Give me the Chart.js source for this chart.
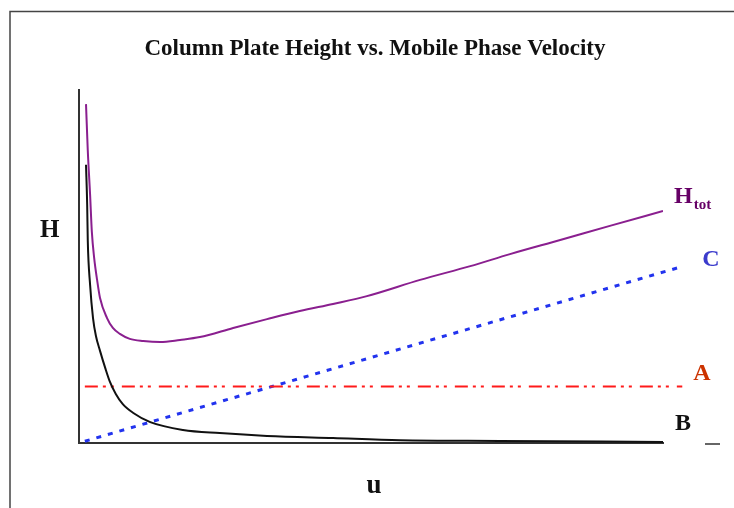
<!DOCTYPE html>
<html>
<head>
<meta charset="utf-8">
<script src="https://cdn.jsdelivr.net/npm/chart.js@4.4.1/dist/chart.umd.min.js"></script>
<style>
    html, body { margin: 0; padding: 0; background: #ffffff; }
    #plot { display: block; }
</style>
</head>
<body>
<canvas id="plot" width="734" height="508"></canvas>
<script>
// Van Deemter curve: plate height H against mobile phase velocity u
const uTot = [0.12, 0.15, 0.19, 0.22, 0.26, 0.31, 0.36, 0.48, 0.58, 0.70, 0.87, 1.10, 1.39, 1.73, 2.07, 2.64, 3.22, 3.78, 4.35, 4.93, 5.84, 6.70, 7.38, 8.24, 9.09, 10.0];
const hTot = [9.60, 8.30, 7.03, 5.98, 5.24, 4.62, 4.11, 3.54, 3.26, 3.09, 2.95, 2.89, 2.86, 2.92, 3.00, 3.26, 3.51, 3.74, 3.94, 4.16, 4.62, 5.01, 5.35, 5.75, 6.15, 6.57];

const uB = [0.12, 0.14, 0.15, 0.19, 0.24, 0.29, 0.36, 0.45, 0.53, 0.63, 0.75, 0.93, 1.22, 1.78, 2.41, 3.22, 4.35, 5.50, 7.21, 10.0];
const hB = [7.88, 6.74, 5.75, 4.48, 3.54, 3.03, 2.61, 2.12, 1.73, 1.39, 1.10, 0.85, 0.59, 0.37, 0.28, 0.20, 0.14, 0.08, 0.06, 0.03];

const uA = [0.10, 10.33];
const hA = [1.60, 1.60];

const uC = [0.10, 10.33];
const hC = [0.05, 5.00];

const uMax = 10;
const hMax = 10;

const serif = "'Liberation Serif', 'Times New Roman', serif";

function points(xs, ys) {
    return xs.map((x, i) => ({ x, y: ys[i] }));
}

function lastPixel(chart, xs, ys) {
    return {
        x: chart.scales.x.getPixelForValue(xs[xs.length - 1]),
        y: chart.scales.y.getPixelForValue(ys[ys.length - 1]),
    };
}

const decorations = {
    id: 'decorations',
    beforeDraw(chart) {
        const ctx = chart.ctx;
        ctx.save();
        // page frame
        ctx.strokeStyle = '#444';
        ctx.lineWidth = 1.5;
        ctx.beginPath();
        ctx.moveTo(10, chart.height);
        ctx.lineTo(10, 11.5);
        ctx.lineTo(chart.width, 11.5);
        ctx.stroke();

        // title
        ctx.fillStyle = '#111';
        ctx.font = 'bold 23px ' + serif;
        ctx.textAlign = 'center';
        ctx.textBaseline = 'alphabetic';
        ctx.fillText('Column Plate Height vs. Mobile Phase Velocity', 375, 55);
        ctx.restore();
    },
    afterDraw(chart) {
        const ctx = chart.ctx;
        const area = chart.chartArea;
        ctx.save();
        ctx.textBaseline = 'alphabetic';
        ctx.textAlign = 'left';

        // H_tot label
        const t = lastPixel(chart, uTot, hTot);
        ctx.fillStyle = '#660066';
        ctx.font = 'bold 24px ' + serif;
        ctx.fillText('H', t.x + 11, t.y - 8);
        const hw = ctx.measureText('H').width;
        ctx.font = 'bold 15px ' + serif;
        ctx.fillText('tot', t.x + 12 + hw, t.y - 2);

        // C label
        const c = lastPixel(chart, uC, hC);
        ctx.fillStyle = '#3b3bcc';
        ctx.font = 'bold 24px ' + serif;
        ctx.fillText('C', c.x + 20, c.y - 1);

        // A label
        const a = lastPixel(chart, uA, hA);
        ctx.fillStyle = '#cc3300';
        ctx.fillText('A', a.x + 11, a.y - 7);

        // B label
        const b = lastPixel(chart, uB, hB);
        ctx.fillStyle = '#111';
        ctx.fillText('B', b.x + 12, b.y - 12);

        // stray tick past the axis end
        ctx.strokeStyle = '#333';
        ctx.lineWidth = 1.5;
        ctx.beginPath();
        ctx.moveTo(area.right + 42, area.bottom + 1);
        ctx.lineTo(area.right + 57, area.bottom + 1);
        ctx.stroke();

        // axis names
        ctx.fillStyle = '#111';
        ctx.font = 'bold 25px ' + serif;
        ctx.fillText('H', 40, 237);
        ctx.font = 'bold 27px ' + serif;
        ctx.textAlign = 'center';
        ctx.fillText('u', 374, 493);
        ctx.restore();
    },
};

new Chart(document.getElementById('plot'), {
    type: 'line',
    data: {
        datasets: [
            {
                label: 'Htot',
                data: points(uTot, hTot),
                borderColor: '#8a1f8f',
                borderWidth: 2,
                cubicInterpolationMode: 'monotone',
                pointRadius: 0,
            },
            {
                label: 'B',
                data: points(uB, hB),
                borderColor: '#111111',
                borderWidth: 2,
                cubicInterpolationMode: 'monotone',
                pointRadius: 0,
            },
            {
                label: 'A',
                data: points(uA, hA),
                borderColor: '#ff1a1a',
                borderWidth: 2,
                borderDash: [13, 5, 3, 5, 3, 8],
                pointRadius: 0,
                clip: false,
            },
            {
                label: 'C',
                data: points(uC, hC),
                borderColor: '#2233ee',
                borderWidth: 3,
                borderDash: [5, 7],
                pointRadius: 0,
                clip: false,
            },
        ],
    },
    options: {
        responsive: false,
        animation: false,
        layout: {
            padding: { left: 71, right: 71, top: 90, bottom: 57 },
        },
        plugins: {
            legend: { display: false },
            tooltip: { enabled: false },
            title: { display: false },
        },
        scales: {
            x: {
                type: 'linear',
                min: 0,
                max: uMax,
                grid: { display: false },
                ticks: { display: false },
                border: { display: true, color: '#333', width: 2 },
            },
            y: {
                type: 'linear',
                min: 0,
                max: hMax,
                grid: { display: false },
                ticks: { display: false },
                border: { display: true, color: '#333', width: 2 },
            },
        },
    },
    plugins: [decorations],
});
</script>
</body>
</html>
